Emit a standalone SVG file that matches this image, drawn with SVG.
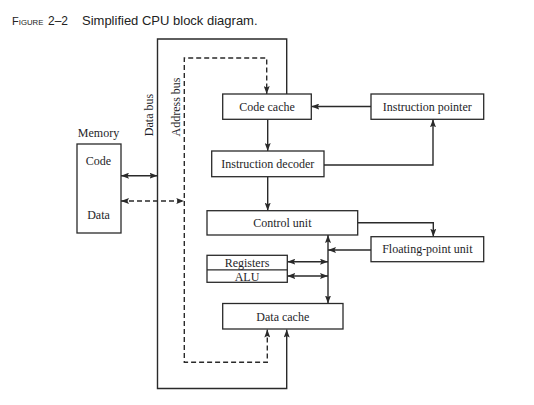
<svg xmlns="http://www.w3.org/2000/svg" width="534" height="405" viewBox="0 0 534 405">
<style>
.box{fill:#fff;stroke:#2a2a2a;stroke-width:1.3}
.t{font-family:"Liberation Serif","Times New Roman",serif;font-size:12px;fill:#1e1e28;text-anchor:middle}
.c{fill:none;stroke:#2a2a2a;stroke-width:1.4}
.d{stroke-dasharray:5,3}
.title{font-family:"Liberation Sans",Arial,sans-serif;fill:#222}
</style>
<defs>
<marker id="ah" viewBox="0 0 8 6" refX="8" refY="3" markerWidth="8" markerHeight="6" markerUnits="userSpaceOnUse" orient="auto-start-reverse">
<path d="M0,0 L8,3 L0,6 L1.5,3 z" fill="#2a2a2a"/>
</marker>
</defs>
<rect width="534" height="405" fill="#fff"/>
<text class="title" x="12" y="25" font-size="11"><tspan>F</tspan><tspan font-size="7.8">IGURE</tspan></text>
<text class="title" x="48" y="25" font-size="12">2–2</text>
<text class="title" x="82" y="25" font-size="13">Simplified CPU block diagram.</text>

<g id="connectors">
<path class="c" d="M286.7,329.5 V388.5 H157.5 V39 H286.7 V94" marker-start="url(#ah)"/>
<path class="c d" d="M267.3,329.5 V362.3 H184.3 V58 H266.7 V94" marker-start="url(#ah)" marker-end="url(#ah)"/>
<path class="c" d="M121,175.7 H157.5" marker-start="url(#ah)" marker-end="url(#ah)"/>
<path class="c d" d="M121,201 H184.3" marker-start="url(#ah)" marker-end="url(#ah)"/>
<path class="c" d="M371,106.5 H311.3" marker-end="url(#ah)"/>
<path class="c" d="M267.7,119.3 V151" marker-end="url(#ah)"/>
<path class="c" d="M324,165 H433 V119.3" marker-end="url(#ah)"/>
<path class="c" d="M267.7,176.7 V210.7" marker-end="url(#ah)"/>
<path class="c" d="M357.7,222.7 H433.3 V236.7" marker-end="url(#ah)"/>
<path class="c" d="M371,250 H328" marker-end="url(#ah)"/>
<path class="c" d="M328,235 V303.5" marker-start="url(#ah)" marker-end="url(#ah)"/>
<path class="c" d="M287.3,261.7 H328" marker-start="url(#ah)" marker-end="url(#ah)"/>
<path class="c" d="M287.3,276 H328" marker-start="url(#ah)" marker-end="url(#ah)"/>
</g>

<g id="bus-labels">
<text class="t" transform="translate(153,115) rotate(-90)">Data bus</text>
<text class="t" transform="translate(179.5,107) rotate(-90)">Address bus</text>
</g>

<g id="memory">
<text class="t" x="98.5" y="137">Memory</text>
<rect class="box" x="77" y="144" width="44" height="89"/>
<text class="t" x="98.5" y="165">Code</text>
<text class="t" x="98.5" y="219">Data</text>
</g>

<g id="code-cache">
<rect class="box" x="222.7" y="94" width="88.6" height="25.3"/>
<text class="t" x="267" y="110.5">Code cache</text>
</g>

<g id="instruction-pointer">
<rect class="box" x="371" y="94" width="112.7" height="25.3"/>
<text class="t" x="427.3" y="110.5">Instruction pointer</text>
</g>

<g id="instruction-decoder">
<rect class="box" x="211.7" y="151" width="112.3" height="25.7"/>
<text class="t" x="267.8" y="168">Instruction decoder</text>
</g>

<g id="control-unit">
<rect class="box" x="207" y="210.7" width="150.7" height="24.3"/>
<text class="t" x="282.3" y="227">Control unit</text>
</g>

<g id="floating-point-unit">
<rect class="box" x="371" y="236.7" width="112.7" height="25"/>
<text class="t" x="427.3" y="253.2">Floating-point unit</text>
</g>

<g id="registers-alu">
<rect class="box" x="207" y="255.3" width="80.3" height="27"/>
<line x1="207" y1="269.8" x2="287.3" y2="269.8" stroke="#2a2a2a" stroke-width="1.3"/>
<text class="t" x="247" y="266.5">Registers</text>
<text class="t" x="247" y="280.5">ALU</text>
</g>

<g id="data-cache">
<rect class="box" x="222.7" y="303.5" width="120.3" height="25.5"/>
<text class="t" x="282.8" y="320.5">Data cache</text>
</g>
</svg>
